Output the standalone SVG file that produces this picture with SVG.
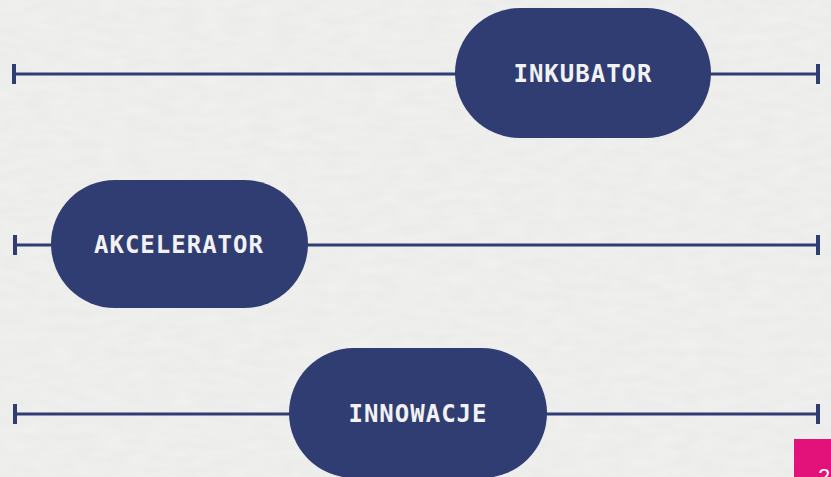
<svg xmlns="http://www.w3.org/2000/svg" width="831" height="477" viewBox="0 0 831 477">
  <defs>
    <filter id="paper" x="0" y="0" width="100%" height="100%">
      <feTurbulence type="fractalNoise" baseFrequency="0.04 0.12" numOctaves="3" seed="4" result="n"/>
      <feColorMatrix in="n" type="matrix" values="0 0 0 0 0.6  0 0 0 0 0.6  0 0 0 0 0.6  0 0 0 0.18 0"/>
    </filter>
    <style>
      .line { stroke: #2f3d72; stroke-width: 3; fill: none; }
      .tick { stroke: #2f3d72; stroke-width: 4; fill: none; }
      .pill { fill: #2f3d72; }
      .label { font-family: "DejaVu Sans Mono", "Liberation Mono", monospace; font-weight: bold; font-size: 24px; letter-spacing: 1px; fill: #f2f2f2; text-anchor: middle; dominant-baseline: central; }
    </style>
  </defs>
  <rect width="831" height="477" fill="#f1f1f0"/>
  <rect width="831" height="477" filter="url(#paper)"/>

  <g id="connectors">
    <line class="line" x1="14" y1="74" x2="818" y2="74"/>
    <line class="tick" x1="14" y1="64" x2="14" y2="84"/>
    <line class="tick" x1="818" y1="64" x2="818" y2="84"/>

    <line class="line" x1="15" y1="245" x2="818" y2="245"/>
    <line class="tick" x1="15" y1="235" x2="15" y2="255"/>
    <line class="tick" x1="818" y1="235" x2="818" y2="255"/>

    <line class="line" x1="15" y1="414" x2="818" y2="414"/>
    <line class="tick" x1="15" y1="404" x2="15" y2="424"/>
    <line class="tick" x1="818" y1="404" x2="818" y2="424"/>
  </g>

  <g id="inkubator">
    <rect class="pill" x="455" y="8" width="256" height="130" rx="65" ry="65"/>
    <text class="label" x="583" y="74">INKUBATOR</text>
  </g>

  <g id="akcelerator">
    <rect class="pill" x="51" y="180" width="257" height="128" rx="64" ry="64"/>
    <text class="label" x="179" y="245">AKCELERATOR</text>
  </g>

  <g id="innowacje">
    <rect class="pill" x="289" y="348" width="258" height="130" rx="65" ry="65"/>
    <text class="label" x="418" y="414">INNOWACJE</text>
  </g>

  <g id="page-badge">
    <rect x="794" y="439" width="37" height="38" fill="#e2127a"/>
    <text x="818" y="484" font-family="Liberation Sans, Arial, sans-serif" font-size="22" fill="#ffffff">2</text>
  </g>
</svg>
